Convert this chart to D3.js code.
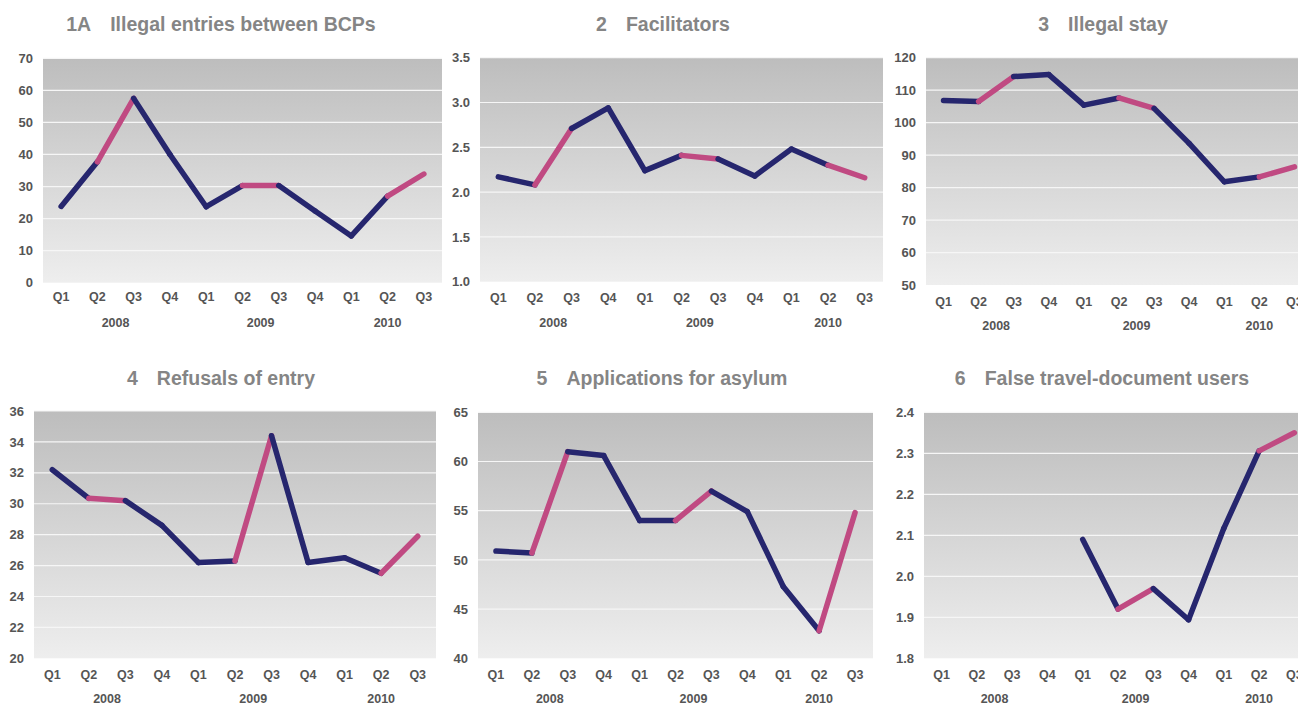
<!DOCTYPE html>
<html>
<head>
<meta charset="utf-8">
<script src="https://cdn.jsdelivr.net/npm/d3@7"></script>
<style>
  body { margin: 0; background: #fff; }
  svg { display: block; font-family: "Liberation Sans", Arial, sans-serif; }
</style>
</head>
<body>
<div id="chart"></div>
<script>
// categories
const quarters = ["Q1", "Q2", "Q3", "Q4", "Q1", "Q2", "Q3", "Q4", "Q1", "Q2", "Q3"];
const years = ["2008", "2008", "2008", "2008", "2009", "2009", "2009", "2009", "2010", "2010", "2010"];

// series values
const illegalEntries = [23.8, 37.7, 57.5, 40.0, 23.7, 30.3, 30.3, 22.4, 14.6, 27.0, 33.9];
const facilitators = [2.17, 2.08, 2.71, 2.94, 2.24, 2.41, 2.37, 2.18, 2.48, 2.30, 2.16];
const illegalStay = [106.8, 106.5, 114.2, 114.8, 105.4, 107.6, 104.4, 93.6, 81.8, 83.3, 86.4];
const refusals = [32.2, 30.35, 30.2, 28.6, 26.2, 26.3, 34.4, 26.2, 26.5, 25.5, 27.9];
const asylum = [50.9, 50.7, 61.0, 60.6, 54.0, 54.0, 57.0, 54.9, 47.3, 42.8, 54.8];
const falseDocs = [null, null, null, null, 2.09, 1.92, 1.97, 1.894, 2.117, 2.306, 2.35];

// tick labels
const ticks1 = [0, 10, 20, 30, 40, 50, 60, 70];
const ticks2 = [1.0, 1.5, 2.0, 2.5, 3.0, 3.5];
const ticks3 = [50, 60, 70, 80, 90, 100, 110, 120];
const ticks4 = [20, 22, 24, 26, 28, 30, 32, 34, 36];
const ticks5 = [40, 45, 50, 55, 60, 65];
const ticks6 = [1.8, 1.9, 2.0, 2.1, 2.2, 2.3, 2.4];

// segments leaving this quarter are highlighted
const highlightFrom = "Q2";

const panels = [
  { num: "1A", title: "Illegal entries between BCPs", values: illegalEntries, ticks: ticks1, fmt: d3.format("d"),
    cx: 221, ty: 31, x0: 43, x1: 442, y0: 58.3, y1: 282.7, qy: 301, yy: 327 },
  { num: "2", title: "Facilitators", values: facilitators, ticks: ticks2, fmt: d3.format(".1f"),
    cx: 663, ty: 31, x0: 480, x1: 883, y0: 57.7, y1: 281.7, qy: 301.5, yy: 326.5 },
  { num: "3", title: "Illegal stay", values: illegalStay, ticks: ticks3, fmt: d3.format("d"),
    cx: 1103, ty: 31, x0: 926, x1: 1312, y0: 57.7, y1: 285, qy: 306, yy: 329.5 },
  { num: "4", title: "Refusals of entry", values: refusals, ticks: ticks4, fmt: d3.format("d"),
    cx: 221, ty: 385, x0: 34, x1: 436, y0: 411, y1: 658.3, qy: 678.5, yy: 702.5 },
  { num: "5", title: "Applications for asylum", values: asylum, ticks: ticks5, fmt: d3.format("d"),
    cx: 662, ty: 385, x0: 478, x1: 873, y0: 412.3, y1: 658.3, qy: 678.5, yy: 702.5 },
  { num: "6", title: "False travel-document users", values: falseDocs, ticks: ticks6, fmt: d3.format(".1f"),
    cx: 1102, ty: 385, x0: 924, x1: 1312, y0: 412.3, y1: 658.3, qy: 678.5, yy: 702.5 }
];

const width = 1298;
const height = 704;
const navy = "#26266e";
const pink = "#c04a82";
const labelColor = "#555555";
const titleColor = "#858585";

const svg = d3.select("#chart").append("svg")
  .attr("width", width)
  .attr("height", height)
  .attr("viewBox", [0, 0, width, height]);

const grad = svg.append("defs").append("linearGradient")
  .attr("id", "bg")
  .attr("x1", 0).attr("y1", 0).attr("x2", 0).attr("y2", 1);
grad.append("stop").attr("offset", "0%").attr("stop-color", "#bdbdbd");
grad.append("stop").attr("offset", "100%").attr("stop-color", "#eeeeee");

const idx = quarters.map((q, i) => i);

panels.forEach(p => {
  const g = svg.append("g");

  const x = d3.scaleBand()
    .domain(idx)
    .range([p.x0, p.x1]);
  const xc = i => x(i) + x.bandwidth() / 2;

  const y = d3.scaleLinear()
    .domain(d3.extent(p.ticks))
    .range([p.y1, p.y0]);

  // title
  const t = g.append("text")
    .attr("x", p.cx)
    .attr("y", p.ty)
    .attr("text-anchor", "middle")
    .style("font-size", "19.5px")
    .style("font-weight", "bold")
    .style("fill", titleColor);
  t.append("tspan").text(p.num);
  t.append("tspan").attr("dx", 19).text(p.title);

  // plot background
  g.append("rect")
    .attr("x", p.x0)
    .attr("y", p.y0)
    .attr("width", p.x1 - p.x0)
    .attr("height", p.y1 - p.y0)
    .attr("fill", "url(#bg)");

  // gridlines
  g.append("g")
    .selectAll("line")
    .data(p.ticks.slice(1))
    .join("line")
    .attr("x1", p.x0)
    .attr("x2", p.x1)
    .attr("y1", d => y(d))
    .attr("y2", d => y(d))
    .attr("stroke", "#f6f6f6")
    .attr("stroke-width", 1.2);

  // y axis
  g.append("g")
    .attr("transform", `translate(${p.x0},0)`)
    .call(d3.axisLeft(y).tickValues(p.ticks).tickFormat(p.fmt).tickSize(0).tickPadding(10))
    .call(a => a.select(".domain").remove())
    .call(a => a.selectAll("text")
      .style("font-family", "'Liberation Sans', Arial, sans-serif")
      .style("font-size", "13px")
      .style("font-weight", "bold")
      .style("fill", labelColor));

  // x axis: quarters
  g.append("g")
    .selectAll("text")
    .data(idx)
    .join("text")
    .attr("x", d => xc(d))
    .attr("y", p.qy)
    .attr("text-anchor", "middle")
    .style("font-size", "12.5px")
    .style("font-weight", "bold")
    .style("fill", labelColor)
    .text(d => quarters[d]);

  // x axis: years, centred under their quarters
  const yearGroups = d3.groups(idx, i => years[i]);
  g.append("g")
    .selectAll("text")
    .data(yearGroups)
    .join("text")
    .attr("x", d => d3.mean(d[1], xc))
    .attr("y", p.yy)
    .attr("text-anchor", "middle")
    .style("font-size", "12.5px")
    .style("font-weight", "bold")
    .style("fill", labelColor)
    .text(d => d[0]);

  // line segments
  const segs = [];
  for (let i = 0; i < p.values.length - 1; i++) {
    if (p.values[i] == null || p.values[i + 1] == null) continue;
    segs.push({ a: i, b: i + 1, hi: quarters[i] === highlightFrom });
  }
  const line = d3.line().x(d => xc(d)).y(d => y(p.values[d]));
  g.append("g")
    .selectAll("path")
    .data(segs)
    .join("path")
    .attr("d", d => line([d.a, d.b]))
    .attr("fill", "none")
    .attr("stroke", d => d.hi ? pink : navy)
    .attr("stroke-width", 5.5)
    .attr("stroke-linecap", "round");
});
</script>
</body>
</html>
